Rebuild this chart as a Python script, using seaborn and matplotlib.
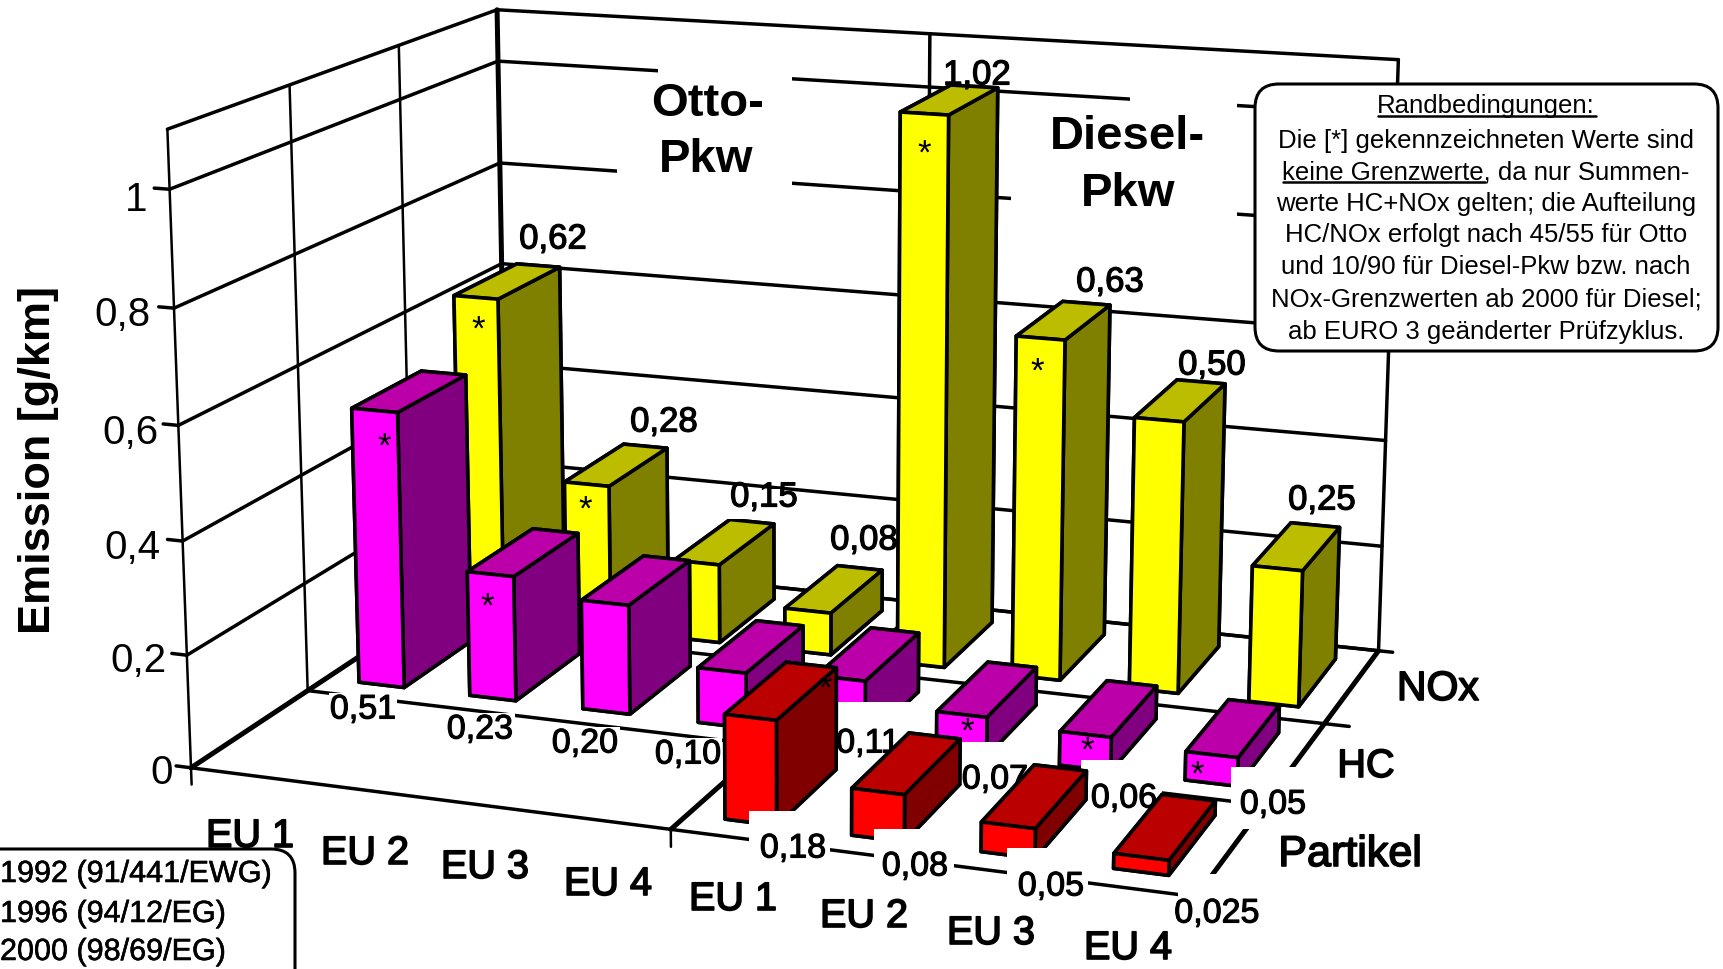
import numpy as np
import matplotlib
matplotlib.use("Agg")
import matplotlib.pyplot as plt
import matplotlib.patheffects as pe
import seaborn as sns
from matplotlib.patches import Rectangle, FancyBboxPatch
from matplotlib.transforms import Affine2D
from matplotlib.text import Text
from matplotlib.lines import Line2D
from mpl_toolkits.mplot3d import Axes3D  # noqa: F401

# ---- data -------------------------------------------------------------
stages = ["EU 1", "EU 2", "EU 3", "EU 4"]
pollutants = ["Partikel", "HC", "NOx"]
otto_nox = [0.62, 0.28, 0.15, 0.08]
otto_hc = [0.51, 0.23, 0.20, 0.10]
diesel_nox = [1.02, 0.63, 0.50, 0.25]
diesel_hc = [0.11, 0.07, 0.06, 0.05]
diesel_pm = [0.18, 0.08, 0.05, 0.025]
z_ticks = [0, 0.2, 0.4, 0.6, 0.8, 1]
legend_lines = ["1992 (91/441/EWG)", "1996 (94/12/EG)", "2000 (98/69/EG)"]
note_lines = ["Randbedingungen:",
              "Die [*] gekennzeichneten Werte sind",
              "keine Grenzwerte, da nur Summen-",
              "werte HC+NOx gelten; die Aufteilung",
              "HC/NOx erfolgt nach 45/55 für Otto",
              "und 10/90 für Diesel-Pkw bzw. nach",
              "NOx-Grenzwerten ab 2000 für Diesel;",
              "ab EURO 3 geänderter Prüfzyklus."]

# ---- theme ------------------------------------------------------------
W, H = 1723, 970
sns.set_theme(style="white")
plt.rcParams["font.family"] = ["Liberation Sans", "DejaVu Sans"]
YELLOW = sns.color_palette(["#ffff00", "#808000", "#bdbd00"])
MAGENTA = sns.color_palette(["#ff00ff", "#800080", "#bb00aa"])
RED = sns.color_palette(["#ff0000", "#800000", "#bb0000"])

fig = plt.figure(figsize=(W / 100, H / 100), dpi=100, facecolor="white")
# A square 3D panel wide enough to cover the whole canvas.
ax = fig.add_axes([0, 0.5 - W / H / 2, 1, W / H], projection="3d", computed_zorder=False)
ax.set_axis_off()
ax.apply_aspect()

# ---- camera: solved from the box corners (scene units -> canvas pixels) -
scene = np.array([(0, 0, 0), (0, 0, 1.1), (0, 3, 0), (0, 3, 1.1), (8, 3, 0), (8, 3, 1.1),
                  (8, 0, 0), (0, 1, 0), (0, 1, 1.1), (0, 2, 1.1), (4, 0, 0)], float)
canvas = np.array([(191, 768), (167, 130), (504, 565), (498, 10), (1380, 647), (1398, 62),
                   (1194, 901), (310, 687), (288, 85), (400, 47), (672, 832)], float)
rows = []
for (X, Y, Z), (u, v) in zip(scene, canvas):
    rows.append([X, Y, Z, 1, 0, 0, 0, 0, -u * X, -u * Y, -u * Z, -u])
    rows.append([0, 0, 0, 0, X, Y, Z, 1, -v * X, -v * Y, -v * Z, -v])
P = np.linalg.svd(np.array(rows))[2][-1].reshape(3, 4)
P = P / (P[2] @ np.array([4, 1.5, 0.5, 1]))

# Pixel coordinates (y down) to the panel's internal 2D coordinates.
inv = ax.transData.inverted()
p00 = inv.transform((0, H))
p11 = inv.transform((W, 0))
A = np.array([[(p11[0] - p00[0]) / W, 0, p00[0]],
              [0, (p11[1] - p00[1]) / H, p00[1]],
              [0, 0, 1]])
P2 = A @ P
M = np.vstack([P2[0], P2[1], [0, 0, 0, -1], P2[2]])
ax.get_proj = lambda: M

pixels = Affine2D().scale(1, -1).translate(0, H)


def label(x, y, s, size=25, weight="bold", z=50, ha="center", va="center",
          plate=False, stroke=0.0, **kw):
    t = Text(x, y + 3, s, fontsize=size, fontweight=weight, ha=ha, va=va, color="black",
             transform=pixels, zorder=z, **kw)
    if plate:
        t.set_bbox(dict(facecolor="white", edgecolor="none", pad=1))
    if stroke:
        t.set_path_effects([pe.withStroke(linewidth=stroke, foreground="black")])
    ax.add_artist(t)
    return t


def plate(x0, y0, x1, y1, z):
    r = Rectangle((x0, y0), x1 - x0, y1 - y0, facecolor="white", edgecolor="none",
                  transform=pixels, zorder=z)
    r.do_3d_projection = lambda: 0
    ax.add_artist(r)


def bars(col0, y0, values, colors, z):
    for i, v in enumerate(values):
        face, side, top = colors
        ax.bar3d(col0 + i + 0.30, y0 + 0.17, 0, 0.41, 0.66, v,
                 color=[top, top, face, side, side, side],
                 edgecolor="black", linewidth=2.6, shade=False, zorder=z + i * 0.01)


# ---- box: floor, left wall, back wall ----------------------------------
THIN, MID, THICK = 1.8, 2.5, 3.6
for z in z_ticks + [1.1]:
    ax.plot([0, 0], [0, 3], [z, z], color="black", lw=MID, zorder=1)
    ax.plot([0, 8], [3, 3], [z, z], color="black", lw=MID, zorder=1)
for y in (0, 1, 2, 3):
    ax.plot([0, 0], [y, y], [0, 1.1], color="black", lw=THICK if y == 3 else THIN, zorder=1)
for x in (4, 8):
    ax.plot([x, x], [3, 3], [0, 1.1], color="black", lw=MID, zorder=1)
for y in (0, 1, 3):
    ax.plot([0, 8], [y, y], [0, 0], color="black", lw=MID, zorder=1)
ax.plot([0, 8.2], [2, 2], [0, 0], color="black", lw=MID, zorder=1)
for x in (0, 4, 8):
    ax.plot([x, x], [0, 3], [0, 0], color="black", lw=THICK, zorder=1)
for z in z_ticks:
    ax.plot([-0.13, 0], [0, 0], [z, z], color="black", lw=MID, zorder=1)
for x in (0, 4):
    ax.plot([x, x], [0, 0], [-0.03, 0], color="black", lw=THIN, zorder=1)
ax.plot([8, 8.12], [3, 3], [0, 0], color="black", lw=MID, zorder=1)

# White blocks kept free for the group headings.
plate(658, 55, 792, 125, 2)
plate(617, 125, 792, 190, 2)
plate(1130, 70, 1237, 130, 2)
plate(1011, 130, 1237, 226, 2)
label(708, 101, "Otto-", 34, z=2.5)
label(706, 157, "Pkw", 34, z=2.5)
label(1127, 134, "Diesel-", 34, z=2.5)
label(1128, 191, "Pkw", 34, z=2.5)

# ---- bars, back row to front row ---------------------------------------
bars(0, 2, otto_nox, YELLOW, 10)
bars(4, 2, diesel_nox, YELLOW, 10.1)
plate(727, 490, 782, 520, 11)
nox_pos = [(553, 237), (664, 420), (764, 495), (864, 538),
           (977, 73), (1110, 280), (1212, 363), (1322, 498)]
for (x, y), v in zip(nox_pos, otto_nox + diesel_nox):
    label(x, y, f"{v:.2f}".replace(".", ","), 25, weight="normal", stroke=0.9, z=12)

# Empty partikel places on the Otto side stay free; the HC row comes next.
bars(0, 1, otto_hc, MAGENTA, 20)
bars(4, 1, diesel_hc, MAGENTA, 20.1)
plate(835, 703, 925, 760, 21)
plate(925, 743, 1040, 800, 21)
plate(1081, 761, 1162, 815, 21)
plate(1231, 768, 1310, 830, 21)
hc_pos = [(363, 708), (480, 728), (585, 742), (688, 753),
          (868, 742), (995, 778), (1124, 797), (1273, 803)]
for (x, y), v in zip(hc_pos, otto_hc + diesel_hc):
    label(x, y, f"{v:.2f}".replace(".", ","), 24.5, weight="normal", stroke=0.8, z=22, plate=True)

bars(4, 0, diesel_pm, RED, 30)
plate(749, 812, 830, 862, 31)
plate(874, 830, 954, 885, 31)
plate(1007, 849, 1088, 905, 31)
plate(1178, 875, 1272, 935, 31)
pm_pos = [(793, 847), (915, 865), (1051, 885), (1217, 912)]
pm_text = ["0,18", "0,08", "0,05", "0,025"]
for (x, y), s in zip(pm_pos, pm_text):
    label(x, y, s, 24.5, weight="normal", stroke=0.8, z=32)

# Stars mark the values that are not limits of their own.
star_pos = [(478, 323), (585, 503), (384, 440), (487, 600), (924, 147), (1037, 365),
            (825, 682), (967, 725), (1087, 744), (1197, 768)]
for x, y in star_pos:
    label(x, y + 4, "*", 25, weight="normal", z=40)

# ---- axis texts ---------------------------------------------------------
tick_right = [173, 167, 160, 159, 151, 147]
tick_y = [770, 658, 545, 430, 312, 197]
for z, xr, y in zip(z_ticks, tick_right, tick_y):
    label(xr, y, f"{z:g}".replace(".", ","), 29, weight="normal", ha="right")
label(39, 457, "Emission [g/km]", 32.5, rotation=90)

stage_pos = [(250, 834), (365, 851), (485, 865), (608, 882),
             (733, 897), (864, 914), (991, 931), (1128, 946)]
for (x, y), s in zip(stage_pos, stages * 2):
    label(x, y, s, 28.5, weight="normal", stroke=1.2, z=6)
for (x, y), s, fs in zip([(1350, 853), (1366, 764), (1438, 687)], pollutants, [31, 28.5, 29.5]):
    label(x, y, s, fs, weight="normal", stroke=1.2)

# ---- legend box, running off the lower left corner ----------------------
legend_box = FancyBboxPatch((-60, 850), 355, 200, boxstyle="round,pad=0,rounding_size=24",
                            facecolor="white", edgecolor="black", lw=2.2, transform=pixels, zorder=60)
legend_box.do_3d_projection = lambda: 0
ax.add_artist(legend_box)
for y, s in zip([872, 912, 950], legend_lines):
    label(0, y, s, 22, weight="normal", ha="left", z=61, stroke=0.4)

# ---- note box -----------------------------------------------------------
note_box = FancyBboxPatch((1255, 85), 463, 267, boxstyle="round,pad=0,rounding_size=24",
                          facecolor="white", edgecolor="black", lw=2.2, transform=pixels, zorder=60)
note_box.do_3d_projection = lambda: 0
ax.add_artist(note_box)
for y, s in zip([105, 140, 172, 203, 234, 266, 299, 331], note_lines):
    label(1486, y - 2, s, 18.5, weight="normal", z=61)
for x0, x1, y in [(1378, 1596, 117), (1283, 1485, 183)]:
    ax.add_artist(Line2D([x0, x1], [y, y], color="black", lw=1.8, transform=pixels, zorder=61))

fig.savefig("out.png", dpi=100, facecolor="white")
